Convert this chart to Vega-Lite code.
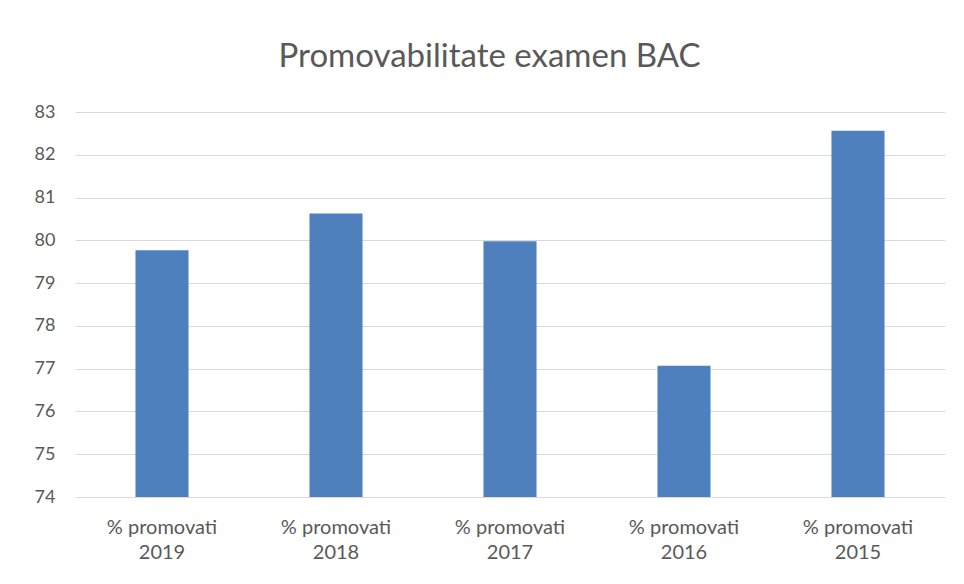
{
  "$schema": "https://vega.github.io/schema/vega-lite/v6.json",
  "width": 870,
  "height": 385,
  "autosize": {"type": "none"},
  "padding": {"left": 75, "top": 112, "right": 19, "bottom": 87},
  "background": "white",
  "title": {
    "text": "Promovabilitate examen BAC",
    "font": "Lato",
    "fontSize": 33,
    "fontWeight": "normal",
    "color": "#595959",
    "anchor": "middle",
    "frame": "bounds",
    "offset": 29
  },
  "data": {
    "values": [
      {"category": "% promovati 2019", "value": 79.77},
      {"category": "% promovati 2018", "value": 80.63},
      {"category": "% promovati 2017", "value": 79.98},
      {"category": "% promovati 2016", "value": 77.07},
      {"category": "% promovati 2015", "value": 82.56}
    ]
  },
  "mark": {"type": "bar", "color": "#4e80bd", "clip": true},
  "encoding": {
    "x": {
      "field": "category",
      "type": "nominal",
      "sort": null,
      "scale": {"paddingInner": 0.695, "paddingOuter": 0.3475},
      "axis": {
        "title": null,
        "labelAngle": 0,
        "labelExpr": "[substring(datum.label,0,11), substring(datum.label,12)]",
        "labelFont": "Lato",
        "labelFontSize": 20,
        "labelColor": "#595959",
        "labelLineHeight": 25,
        "labelPadding": 20,
        "domain": false,
        "ticks": false
      }
    },
    "y": {
      "field": "value",
      "type": "quantitative",
      "scale": {"domain": [74, 83], "zero": false, "nice": false},
      "axis": {
        "title": null,
        "values": [74, 75, 76, 77, 78, 79, 80, 81, 82, 83],
        "labelFont": "Lato",
        "labelFontSize": 18,
        "labelColor": "#595959",
        "labelPadding": 20,
        "domain": false,
        "ticks": false,
        "gridColor": "#d9d9d9",
        "gridWidth": 1.2
      }
    }
  },
  "config": {"view": {"stroke": null}}
}
